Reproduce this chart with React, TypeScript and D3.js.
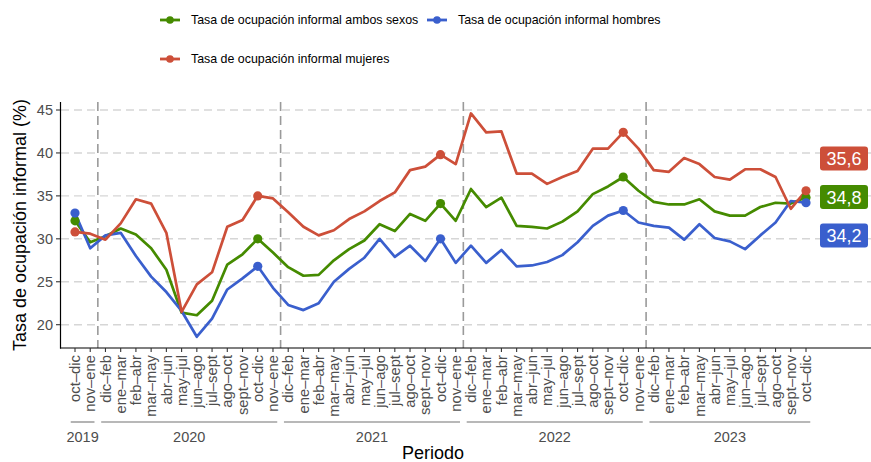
import React from 'react';
import * as d3 from 'd3';

// periods per year group
const years = ['2019', '2020', '2021', '2022', '2023'];
const periods2019 = ['oct–dic', 'nov–ene'];
const periodsYear = ['dic–feb', 'ene–mar', 'feb–abr', 'mar–may', 'abr–jun', 'may–jul', 'jun–ago', 'jul–sept', 'ago–oct', 'sept–nov', 'oct–dic', 'nov–ene'];
const periods2023 = periodsYear.slice(0, 11);
const yearPeriods = [periods2019, periodsYear, periodsYear, periodsYear, periods2023];

// tasa de ocupación informal (%)
const ambos = [32.1, 29.6, 30.3, 31.2, 30.5, 28.9, 26.4, 21.4, 21.1, 22.8, 27.0, 28.2, 30.0, 28.4,
  26.7, 25.7, 25.8, 27.5, 28.8, 29.8, 31.7, 30.9, 32.9, 32.1, 34.1, 32.1, 35.8, 33.7, 34.8, 31.5,
  31.4, 31.2, 32.0, 33.2, 35.2, 36.1, 37.2, 35.6, 34.3, 34.0, 34.0, 34.6, 33.2, 32.7, 32.7, 33.7,
  34.2, 34.1, 34.8];
const hombres = [33.0, 28.9, 30.4, 30.7, 28.0, 25.6, 23.8, 21.6, 18.6, 20.7, 24.1, 25.4, 26.8, 24.3,
  22.3, 21.7, 22.5, 25.0, 26.5, 27.8, 30.0, 27.9, 29.2, 27.4, 30.0, 27.2, 29.2, 27.2, 28.7, 26.8,
  26.9, 27.3, 28.1, 29.6, 31.5, 32.7, 33.3, 31.9, 31.5, 31.3, 29.9, 31.7, 30.1, 29.7, 28.8, 30.4,
  31.9, 34.4, 34.2];
const mujeres = [30.8, 30.6, 29.9, 31.8, 34.6, 34.1, 30.7, 21.5, 24.7, 26.1, 31.4, 32.2, 35.0, 34.7,
  33.1, 31.4, 30.4, 31.0, 32.3, 33.2, 34.4, 35.4, 38.0, 38.4, 39.8, 38.7, 44.6, 42.4, 42.5, 37.6,
  37.6, 36.4, 37.2, 37.9, 40.5, 40.5, 42.4, 40.5, 38.0, 37.8, 39.4, 38.7, 37.2, 36.9, 38.1, 38.1,
  37.2, 33.5, 35.6];

const seriesNames = ['Tasa de ocupación informal ambos sexos', 'Tasa de ocupación informal hombres', 'Tasa de ocupación informal mujeres'];
const seriesValues = [ambos, hombres, mujeres];
const seriesColors = ['#458B00', '#3A5FCD', '#CD4F39'];
const yTicks = [20, 25, 30, 35, 40, 45];

const FONT = 'Liberation Sans, Arial, sans-serif';

export default function App() {
  const W = 871, H = 462;
  const left = 61, right = 871, top = 102, bottom = 348;

  const cats: { key: string; label: string; year: string }[] = [];
  yearPeriods.forEach((ps, gi) => ps.forEach((p) => cats.push({ key: years[gi] + '|' + p, label: p, year: years[gi] })));

  const x = d3.scalePoint<string>().domain(cats.map((c) => c.key)).range([75, 806]);
  const step = x.step();
  const y = d3.scaleLinear().domain([20, 45]).range([324.7, 110]);

  const line = d3.line<number>().x((_, i) => x(cats[i].key)!).y((d) => y(d));

  // year groups
  let start = 0;
  const groups = yearPeriods.map((ps, gi) => {
    const g = { year: years[gi], first: cats[start].key, last: cats[start + ps.length - 1].key };
    start += ps.length;
    return g;
  });

  // markers at every oct–dic
  const markerIdx = cats.map((c, i) => (c.label === 'oct–dic' ? i : -1)).filter((i) => i >= 0);

  // end labels, simple repel
  const n = cats.length - 1;
  const ends = seriesValues.map((v, si) => ({ v: v[n], color: seriesColors[si] }));
  const sorted = [...ends].sort((a, b) => b.v - a.v);
  const meanY = d3.mean(sorted, (d) => y(d.v))!;
  const gap = 38.5;
  const lx = x(cats[n].key)! + 14;
  const fmt = (v: number) => v.toFixed(1).replace('.', ',');

  return (
    <svg width={W} height={H} style={{ position: 'absolute', left: 0, top: 0, fontFamily: FONT }}>
      <rect width={W} height={H} fill="#fff" />

      {/* legend */}
      {seriesNames.map((name, i) => {
        const lxp = i === 1 ? 427 : 160;
        const lyp = i === 2 ? 59 : 20;
        return (
          <g key={name}>
            <line x1={lxp} x2={lxp + 20} y1={lyp} y2={lyp} stroke={seriesColors[i]} strokeWidth={2.8} />
            <circle cx={lxp + 10} cy={lyp} r={3.8} fill={seriesColors[i]} />
            <text x={lxp + 31} y={lyp} dy="0.35em" fontSize={12.4} fill="#000">{name}</text>
          </g>
        );
      })}

      {/* horizontal grid */}
      {yTicks.map((t) => (
        <line key={t} x1={left} x2={right} y1={y(t)} y2={y(t)} stroke="#d6d6d6" strokeWidth={1.4} strokeDasharray="8,5" />
      ))}

      {/* year separators */}
      {groups.slice(1).map((g, i) => {
        const xs = (x(groups[i].last)! + x(g.first)!) / 2;
        return <line key={g.year} x1={xs} x2={xs} y1={top} y2={bottom} stroke="#9a9a9a" strokeWidth={1.6} strokeDasharray="9,5" />;
      })}

      {/* series lines */}
      {seriesValues.map((vals, si) => (
        <path key={si} d={line(vals)!} fill="none" stroke={seriesColors[si]} strokeWidth={2.7} strokeLinejoin="round" />
      ))}
      {seriesValues.map((vals, si) =>
        markerIdx.map((i) => <circle key={si + '-' + i} cx={x(cats[i].key)} cy={y(vals[i])} r={4.6} fill={seriesColors[si]} />)
      )}

      {/* end labels */}
      {sorted.map((d, k) => {
        const cy = meanY + (k - 1) * gap;
        return (
          <g key={k}>
            <rect x={lx} y={cy - 12} width={48} height={24} rx={3} fill={d.color} />
            <text x={lx + 24} y={cy} dy="0.36em" textAnchor="middle" fontSize={18} fill="#fff">{fmt(d.v)}</text>
          </g>
        );
      })}

      {/* axes */}
      <line x1={left - 0.5} x2={left - 0.5} y1={top} y2={bottom + 0.6} stroke="#000" strokeWidth={1.2} />
      <line x1={left - 1} x2={right} y1={bottom} y2={bottom} stroke="#000" strokeWidth={1.2} />
      {yTicks.map((t) => (
        <g key={t}>
          <line x1={left - 5} x2={left - 1} y1={y(t)} y2={y(t)} stroke="#333" strokeWidth={1.1} />
          <text x={left - 8} y={y(t)} dy="0.35em" textAnchor="end" fontSize={14.5} fill="#4d4d4d">{t}</text>
        </g>
      ))}
      {cats.map((c) => (
        <g key={c.key} transform={`translate(${x(c.key)},${bottom})`}>
          <line y1={0} y2={4} stroke="#333" strokeWidth={1.1} />
          <text transform="rotate(-90)" x={-7} y={0} dy="0.35em" textAnchor="end" fontSize={14.8} fill="#4d4d4d">{c.label}</text>
        </g>
      ))}

      {/* year group labels */}
      {groups.map((g) => {
        const x1 = x(g.first)! - step * 0.28;
        const x2 = x(g.last)! + step * 0.28;
        return (
          <g key={g.year}>
            <line x1={x1} x2={x2} y1={422} y2={422} stroke="#a0a0a0" strokeWidth={1.6} />
            <text x={(x1 + x2) / 2} y={437} dy="0.35em" textAnchor="middle" fontSize={14.5} fill="#4d4d4d">{g.year}</text>
          </g>
        );
      })}

      {/* axis titles */}
      <text x={433} y={453} dy="0.35em" textAnchor="middle" fontSize={18} fill="#000">Periodo</text>
      <text transform={`translate(20,${(top + bottom) / 2}) rotate(-90)`} dy="0.35em" textAnchor="middle" fontSize={18} fill="#000">
        Tasa de ocupación informal (%)
      </text>
    </svg>
  );
}
